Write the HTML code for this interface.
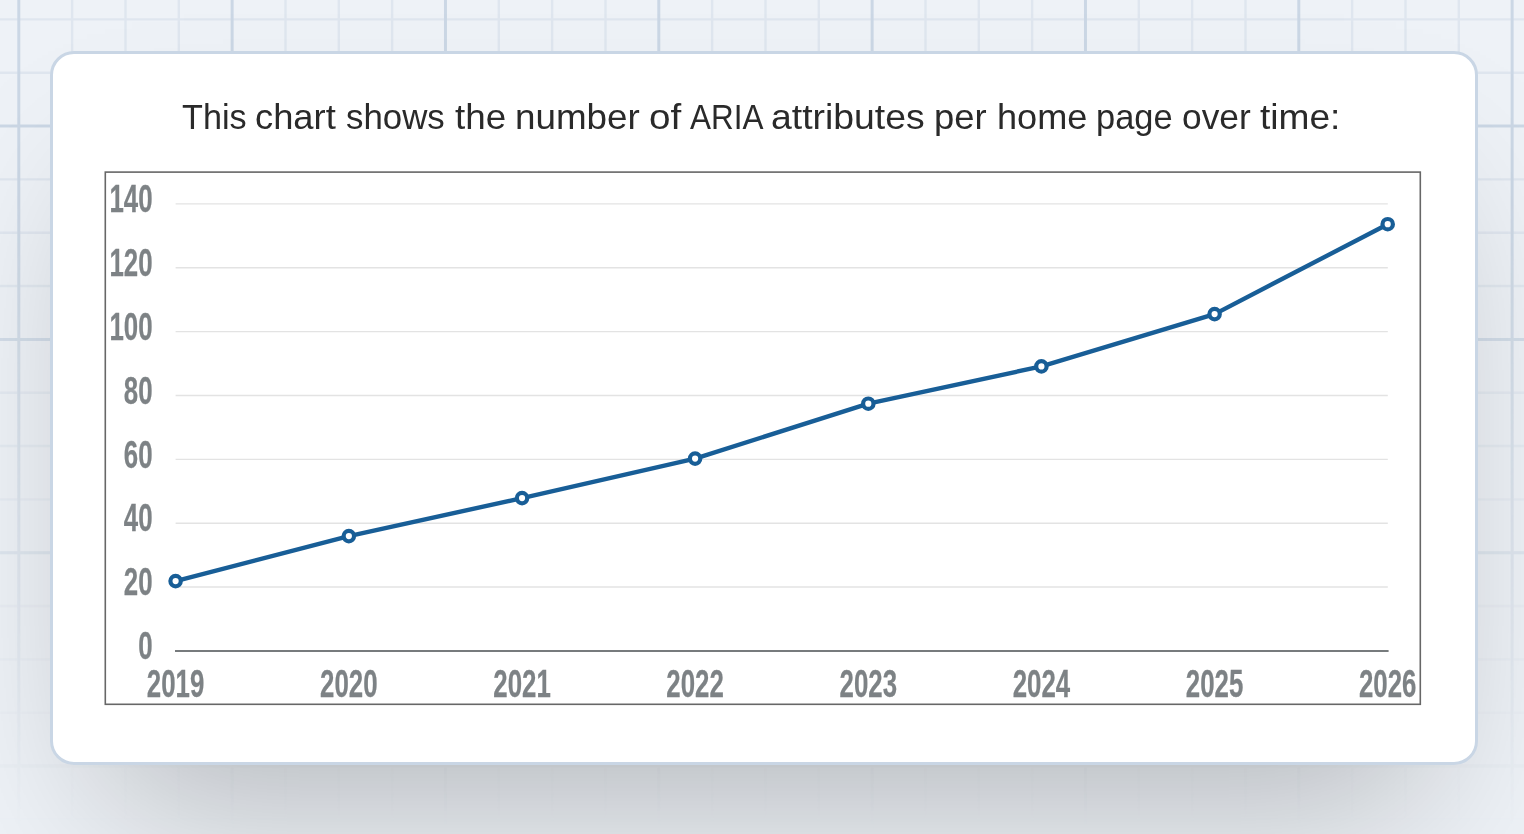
<!DOCTYPE html>
<html><head><meta charset="utf-8"><title>ARIA attributes chart</title>
<style>
html,body{margin:0;padding:0;}
body{width:1524px;height:834px;overflow:hidden;position:relative;background:#eef2f7;font-family:"Liberation Sans",Arial,sans-serif;}
#bg{position:absolute;left:0;top:0;-webkit-mask-image:linear-gradient(to bottom, #000 0px, #000 200px, rgba(0,0,0,0) 830px);mask-image:linear-gradient(to bottom, #000 0px, #000 200px, rgba(0,0,0,0) 830px);}
.card{position:absolute;left:50px;top:51px;width:1428px;height:714px;box-sizing:border-box;border:3px solid #c9d6e5;border-radius:24px;background:#fff;box-shadow:0 90px 160px -55px rgba(0,0,0,0.25);}
h1{position:absolute;left:0.00px;width:1524px;height:40px;margin:0;text-align:center;font-weight:400;font-size:35px;line-height:1;letter-spacing:0.29px;color:#2a2a2a;white-space:nowrap;}
#chart{position:absolute;left:0;top:0;}
h1 span{position:absolute;top:0;transform-origin:0 0;letter-spacing:0;}
.ax text{font-family:"Liberation Sans",Arial,sans-serif;font-weight:700;font-size:38px;fill:#7d8285;stroke:#7d8285;stroke-width:0.25px;}
</style></head>
<body>
<svg id="bg" width="1524" height="834" viewBox="0 0 1524 834">
<line x1="72.13" y1="0" x2="72.13" y2="834" stroke="#dfe6ef" stroke-width="2.4"/>
<line x1="125.47" y1="0" x2="125.47" y2="834" stroke="#dfe6ef" stroke-width="2.4"/>
<line x1="178.80" y1="0" x2="178.80" y2="834" stroke="#dfe6ef" stroke-width="2.4"/>
<line x1="285.47" y1="0" x2="285.47" y2="834" stroke="#dfe6ef" stroke-width="2.4"/>
<line x1="338.80" y1="0" x2="338.80" y2="834" stroke="#dfe6ef" stroke-width="2.4"/>
<line x1="392.13" y1="0" x2="392.13" y2="834" stroke="#dfe6ef" stroke-width="2.4"/>
<line x1="498.80" y1="0" x2="498.80" y2="834" stroke="#dfe6ef" stroke-width="2.4"/>
<line x1="552.13" y1="0" x2="552.13" y2="834" stroke="#dfe6ef" stroke-width="2.4"/>
<line x1="605.47" y1="0" x2="605.47" y2="834" stroke="#dfe6ef" stroke-width="2.4"/>
<line x1="712.13" y1="0" x2="712.13" y2="834" stroke="#dfe6ef" stroke-width="2.4"/>
<line x1="765.47" y1="0" x2="765.47" y2="834" stroke="#dfe6ef" stroke-width="2.4"/>
<line x1="818.80" y1="0" x2="818.80" y2="834" stroke="#dfe6ef" stroke-width="2.4"/>
<line x1="925.47" y1="0" x2="925.47" y2="834" stroke="#dfe6ef" stroke-width="2.4"/>
<line x1="978.80" y1="0" x2="978.80" y2="834" stroke="#dfe6ef" stroke-width="2.4"/>
<line x1="1032.13" y1="0" x2="1032.13" y2="834" stroke="#dfe6ef" stroke-width="2.4"/>
<line x1="1138.80" y1="0" x2="1138.80" y2="834" stroke="#dfe6ef" stroke-width="2.4"/>
<line x1="1192.13" y1="0" x2="1192.13" y2="834" stroke="#dfe6ef" stroke-width="2.4"/>
<line x1="1245.47" y1="0" x2="1245.47" y2="834" stroke="#dfe6ef" stroke-width="2.4"/>
<line x1="1352.13" y1="0" x2="1352.13" y2="834" stroke="#dfe6ef" stroke-width="2.4"/>
<line x1="1405.47" y1="0" x2="1405.47" y2="834" stroke="#dfe6ef" stroke-width="2.4"/>
<line x1="1458.80" y1="0" x2="1458.80" y2="834" stroke="#dfe6ef" stroke-width="2.4"/>
<line x1="0" y1="19.40" x2="1524" y2="19.40" stroke="#dfe6ef" stroke-width="2.4"/>
<line x1="0" y1="72.73" x2="1524" y2="72.73" stroke="#dfe6ef" stroke-width="2.4"/>
<line x1="0" y1="179.40" x2="1524" y2="179.40" stroke="#dfe6ef" stroke-width="2.4"/>
<line x1="0" y1="232.73" x2="1524" y2="232.73" stroke="#dfe6ef" stroke-width="2.4"/>
<line x1="0" y1="286.07" x2="1524" y2="286.07" stroke="#dfe6ef" stroke-width="2.4"/>
<line x1="0" y1="392.73" x2="1524" y2="392.73" stroke="#dfe6ef" stroke-width="2.4"/>
<line x1="0" y1="446.07" x2="1524" y2="446.07" stroke="#dfe6ef" stroke-width="2.4"/>
<line x1="0" y1="499.40" x2="1524" y2="499.40" stroke="#dfe6ef" stroke-width="2.4"/>
<line x1="0" y1="606.07" x2="1524" y2="606.07" stroke="#dfe6ef" stroke-width="2.4"/>
<line x1="0" y1="659.40" x2="1524" y2="659.40" stroke="#dfe6ef" stroke-width="2.4"/>
<line x1="0" y1="712.73" x2="1524" y2="712.73" stroke="#dfe6ef" stroke-width="2.4"/>
<line x1="0" y1="819.40" x2="1524" y2="819.40" stroke="#dfe6ef" stroke-width="2.4"/>
<line x1="18.80" y1="0" x2="18.80" y2="834" stroke="#cbd7e5" stroke-width="3"/>
<line x1="232.13" y1="0" x2="232.13" y2="834" stroke="#cbd7e5" stroke-width="3"/>
<line x1="445.47" y1="0" x2="445.47" y2="834" stroke="#cbd7e5" stroke-width="3"/>
<line x1="658.80" y1="0" x2="658.80" y2="834" stroke="#cbd7e5" stroke-width="3"/>
<line x1="872.13" y1="0" x2="872.13" y2="834" stroke="#cbd7e5" stroke-width="3"/>
<line x1="1085.47" y1="0" x2="1085.47" y2="834" stroke="#cbd7e5" stroke-width="3"/>
<line x1="1298.80" y1="0" x2="1298.80" y2="834" stroke="#cbd7e5" stroke-width="3"/>
<line x1="1512.13" y1="0" x2="1512.13" y2="834" stroke="#cbd7e5" stroke-width="3"/>
<line x1="0" y1="126.07" x2="1524" y2="126.07" stroke="#cbd7e5" stroke-width="3"/>
<line x1="0" y1="339.40" x2="1524" y2="339.40" stroke="#cbd7e5" stroke-width="3"/>
<line x1="0" y1="552.73" x2="1524" y2="552.73" stroke="#cbd7e5" stroke-width="3"/>
<line x1="0" y1="766.07" x2="1524" y2="766.07" stroke="#cbd7e5" stroke-width="3"/>
</svg>
<div class="card"></div>
<h1 style="top:98.9px"><span style="left:181.82px;transform:scaleX(0.9766)">This</span> <span style="left:254.96px;transform:scaleX(1.0377)">chart</span> <span style="left:345.61px;transform:scaleX(0.9948)">shows</span> <span style="left:454.8px;transform:scaleX(1.0511)">the</span> <span style="left:514.7px;transform:scaleX(1.0517)">number</span> <span style="left:649.1px;transform:scaleX(1.1036)">of</span> <span style="left:689.5px;transform:scaleX(0.8988)">ARIA</span> <span style="left:771.43px;transform:scaleX(1.0669)">attributes</span> <span style="left:933.92px;transform:scaleX(1.0396)">per</span> <span style="left:996.64px;transform:scaleX(1.0321)">home</span> <span style="left:1096.23px;transform:scaleX(0.9838)">page</span> <span style="left:1181.99px;transform:scaleX(1.009)">over</span> <span style="left:1260.4px;transform:scaleX(1.0603)">time:</span></h1>
<svg id="chart" width="1524" height="834" viewBox="0 0 1524 834">
<rect x="105.3" y="172.1" width="1315" height="532.2" fill="#fff" stroke="#676767" stroke-width="1.6"/>
<line x1="175.6" y1="587.04" x2="1387.8" y2="587.04" stroke="#e3e3e3" stroke-width="1.4"/>
<line x1="175.6" y1="523.19" x2="1387.8" y2="523.19" stroke="#e3e3e3" stroke-width="1.4"/>
<line x1="175.6" y1="459.33" x2="1387.8" y2="459.33" stroke="#e3e3e3" stroke-width="1.4"/>
<line x1="175.6" y1="395.47" x2="1387.8" y2="395.47" stroke="#e3e3e3" stroke-width="1.4"/>
<line x1="175.6" y1="331.62" x2="1387.8" y2="331.62" stroke="#e3e3e3" stroke-width="1.4"/>
<line x1="175.6" y1="267.76" x2="1387.8" y2="267.76" stroke="#e3e3e3" stroke-width="1.4"/>
<line x1="175.6" y1="203.90" x2="1387.8" y2="203.90" stroke="#e3e3e3" stroke-width="1.4"/>
<line x1="175" y1="650.9" x2="1388.6" y2="650.9" stroke="#777b7d" stroke-width="2"/>
<polyline points="175.60,581.10 348.85,536.10 522.05,498.10 695.10,458.60 868.30,403.70 1041.40,366.40 1214.60,314.10 1387.70,224.20" fill="none" stroke="#185e97" stroke-width="4.4" stroke-linejoin="round"/>
<g fill="#fff" stroke="#185e97" stroke-width="4.2">
<circle cx="175.60" cy="581.10" r="5.2"/>
<circle cx="348.85" cy="536.10" r="5.2"/>
<circle cx="522.05" cy="498.10" r="5.2"/>
<circle cx="695.10" cy="458.60" r="5.2"/>
<circle cx="868.30" cy="403.70" r="5.2"/>
<circle cx="1041.40" cy="366.40" r="5.2"/>
<circle cx="1214.60" cy="314.10" r="5.2"/>
<circle cx="1387.70" cy="224.20" r="5.2"/>
</g>
<g class="ax">
<text transform="translate(152.6 659.20) scale(0.68 1)" text-anchor="end">0</text>
<text transform="translate(152.6 595.34) scale(0.68 1)" text-anchor="end">20</text>
<text transform="translate(152.6 531.49) scale(0.68 1)" text-anchor="end">40</text>
<text transform="translate(152.6 467.63) scale(0.68 1)" text-anchor="end">60</text>
<text transform="translate(152.6 403.77) scale(0.68 1)" text-anchor="end">80</text>
<text transform="translate(152.6 339.92) scale(0.68 1)" text-anchor="end">100</text>
<text transform="translate(152.6 276.06) scale(0.68 1)" text-anchor="end">120</text>
<text transform="translate(152.6 212.20) scale(0.68 1)" text-anchor="end">140</text>
<text transform="translate(175.60 697) scale(0.68 1)" text-anchor="middle">2019</text>
<text transform="translate(348.85 697) scale(0.68 1)" text-anchor="middle">2020</text>
<text transform="translate(522.05 697) scale(0.68 1)" text-anchor="middle">2021</text>
<text transform="translate(695.10 697) scale(0.68 1)" text-anchor="middle">2022</text>
<text transform="translate(868.30 697) scale(0.68 1)" text-anchor="middle">2023</text>
<text transform="translate(1041.40 697) scale(0.68 1)" text-anchor="middle">2024</text>
<text transform="translate(1214.60 697) scale(0.68 1)" text-anchor="middle">2025</text>
<text transform="translate(1387.70 697) scale(0.68 1)" text-anchor="middle">2026</text>
</g>
</svg>
</body></html>
